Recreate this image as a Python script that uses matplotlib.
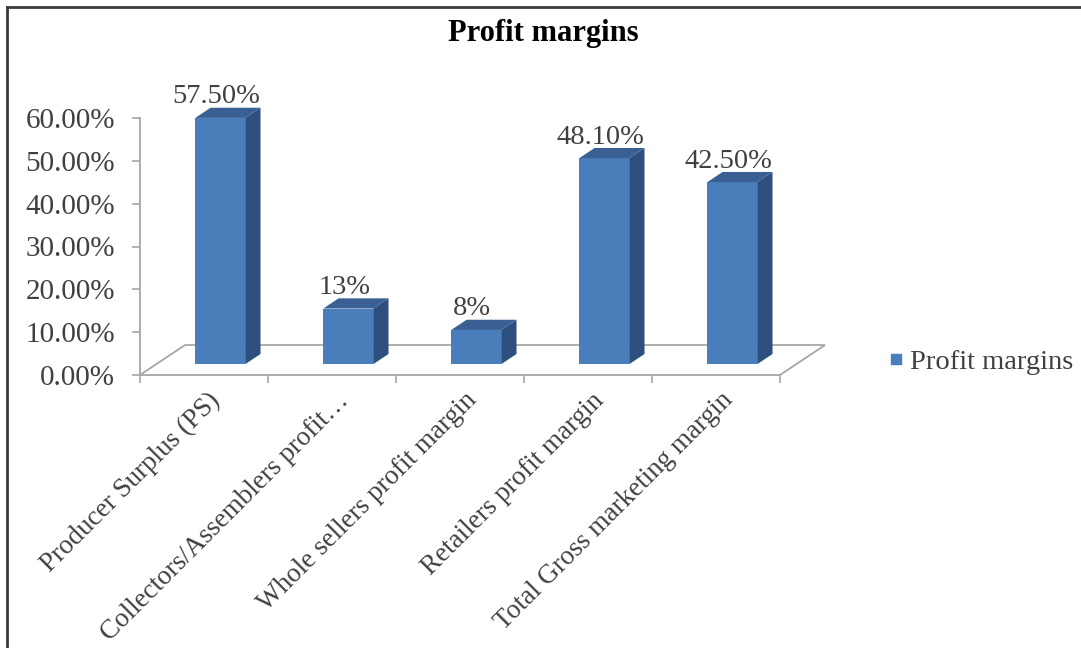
import matplotlib
matplotlib.use("Agg")
import matplotlib.pyplot as plt
from matplotlib.patches import Polygon
from matplotlib.lines import Line2D
import numpy as np

categories = ["Producer Surplus (PS)", "Collectors/Assemblers profit\u2026",
              "Whole sellers profit margin", "Retailers profit margin",
              "Total Gross marketing margin"]
values = [0.575, 0.13, 0.08, 0.481, 0.425]
value_labels = ["57.50%", "13%", "8%", "48.10%", "42.50%"]
yticks = [0.0, 0.1, 0.2, 0.3, 0.4, 0.5, 0.6]
series_name = "Profit margins"
title = "Profit margins"

serif = ["Liberation Serif", "DejaVu Serif"]
plt.rcParams['font.family'] = serif

W, H = 1081, 648
fig = plt.figure(figsize=(W / 100, H / 100), dpi=100)
fig.patch.set_facecolor("white")

ax = fig.add_axes([140 / W, 1 - 375 / H, 640 / W, 257 / H])
ax.set_xlim(-0.5, len(categories) - 0.5)
ax.set_ylim(0, 0.6)
ax.set_facecolor("none")

# depth geometry (in data units)
floor_dx, floor_dy = 0.352, 0.070
f0, f1 = 0.36, 0.70
bw = 0.39
x = np.arange(len(categories))

grid_col = "#a6a6a6"
# floor
fl = Polygon([(-0.5, 0), (len(categories) - 0.5, 0),
              (len(categories) - 0.5 + floor_dx, floor_dy),
              (-0.5 + floor_dx, floor_dy)], closed=True,
             facecolor="white", edgecolor=grid_col, lw=1.3, clip_on=False, zorder=1)
ax.add_patch(fl)

front_col = "#4a7ebb"
side_col = "#2d4f7d"
top_col = "#3a6093"

x0s = f0 * floor_dx
y0s = f0 * floor_dy
ddx = (f1 - f0) * floor_dx
ddy = (f1 - f0) * floor_dy

bars = ax.bar(x + x0s, values, width=bw, bottom=y0s, color=front_col,
              zorder=3, clip_on=False)
for xi, v in zip(x, values):
    l = xi + x0s - bw / 2
    r = xi + x0s + bw / 2
    t = v + y0s
    side = Polygon([(r, y0s), (r + ddx, y0s + ddy), (r + ddx, t + ddy), (r, t)],
                   closed=True, facecolor=side_col, edgecolor="none", zorder=3, clip_on=False)
    top = Polygon([(l, t), (r, t), (r + ddx, t + ddy), (l + ddx, t + ddy)],
                  closed=True, facecolor=top_col, edgecolor="none", zorder=3, clip_on=False)
    ax.add_patch(side)
    ax.add_patch(top)

for xi, v, lab in zip(x, values, value_labels):
    ax.text(xi + x0s - 0.03, v + y0s + ddy - 0.004, lab, ha="center", va="bottom",
            fontsize=20.5, color="#404040", zorder=5)

# axes styling
for s in ["top", "right", "bottom"]:
    ax.spines[s].set_visible(False)
ax.spines["left"].set_color(grid_col)
ax.spines["left"].set_linewidth(1.3)
ax.set_yticks(yticks)
ax.set_yticklabels([f"{t*100:.2f}%" for t in yticks], fontsize=21, color="#404040")
ax.tick_params(axis="y", length=6, width=1.2, color=grid_col, pad=12)
ax.set_xticks(np.arange(-0.5, len(categories), 1.0))
ax.set_xticklabels([])
ax.tick_params(axis="x", length=6, width=1.2, color=grid_col, direction="out")

tr = ax.get_xaxis_transform()
for xi, c in zip(x, categories):
    ax.text(xi + 0.03, -0.05, c, transform=tr, rotation=45, rotation_mode="anchor",
            ha="right", va="top", fontsize=19.5, color="#404040")

fig.text(543 / W, 1 - 33 / H, title, ha="center", va="center", fontsize=22,
         fontweight="bold", color="black")

handle = Line2D([], [], marker="s", linestyle="none", markersize=7,
                markerfacecolor=front_col, markeredgecolor=front_col)
fig.legend([handle], [series_name], loc="center left",
           bbox_to_anchor=(882 / W, 1 - 362 / H), frameon=False,
           fontsize=20.5, handlelength=0.6, handletextpad=0.2, labelcolor="#404040",
           borderpad=0.2, borderaxespad=0)

# outer frame (left and top edges)
fig.add_artist(Line2D([7 / W, 7 / W], [0, 1 - 7 / H], transform=fig.transFigure,
                      color="#3a3a3a", lw=2))
fig.add_artist(Line2D([7 / W, 1], [1 - 7 / H, 1 - 7 / H], transform=fig.transFigure,
                      color="#3a3a3a", lw=2))

fig.savefig("out.png", dpi=100, facecolor="white")
